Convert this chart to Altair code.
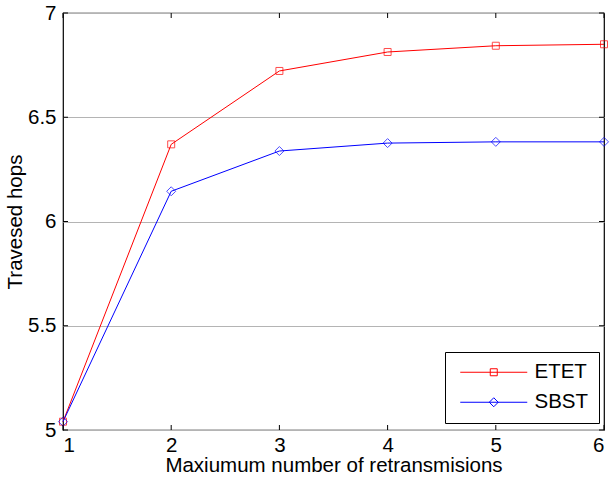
import altair as alt
import pandas as pd

x_vals = [1, 2, 3, 4, 5, 6]
etet = [5.04, 6.37, 6.722, 6.813, 6.843, 6.85]
sbst = [5.04, 6.145, 6.338, 6.376, 6.382, 6.382]
series_names = ["ETET", "SBST"]
x_ticks = [1, 2, 3, 4, 5, 6]
y_ticks = [5, 5.5, 6, 6.5, 7]

df = pd.DataFrame({
    "x": x_vals * 2,
    "y": etet + sbst,
    "series": ["ETET"] * len(x_vals) + ["SBST"] * len(x_vals),
})
xt = pd.DataFrame({"t": x_ticks})
yt = pd.DataFrame({"t": y_ticks})

FONT = "Liberation Sans"
FS = 20.5
W, H = 541, 417

xs = alt.Scale(domain=[1, 6], nice=False, zero=False)
ys = alt.Scale(domain=[5, 7], nice=False, zero=False)

# legend glyphs: line with marker in the middle (units of 8 px)
sq_path = "M-0.625,0H7.75M3.125,-0.4375H4V0.4375H3.125Z"
dm_path = "M-0.625,0H7.75M3,0L3.5625,-0.5625L4.125,0L3.5625,0.5625Z"

leg = alt.Legend(
    title=None, orient="none", legendX=382, legendY=339,
    strokeColor="black", fillColor="white", padding=10,
    labelFont=FONT, labelFontSize=FS, labelColor="black",
    labelOffset=59, symbolSize=256, rowPadding=9,
    symbolStrokeWidth=1, symbolFillColor="transparent", symbolOpacity=1,
)
color = alt.Color(
    "series:N",
    scale=alt.Scale(domain=series_names, range=["#ff0000", "#0000ff"]),
    legend=leg,
)
shape = alt.Shape(
    "series:N",
    scale=alt.Scale(domain=series_names, range=[sq_path, dm_path]),
    legend=leg,
)

base = alt.Chart(df)

lines = base.mark_line(strokeWidth=1).encode(
    x=alt.X("x:Q", scale=xs, axis=alt.Axis(
        values=x_ticks, title="Maxiumum number of retransmisions", grid=False,
        domain=False, ticks=False, labelFont=FONT, labelFontSize=FS, labelColor="black",
        labelPadding=5, titleFont=FONT, titleFontSize=FS, titleFontWeight="normal",
        titleColor="black", titlePadding=0, format="d")),
    y=alt.Y("y:Q", scale=ys, axis=alt.Axis(
        values=y_ticks, title="Travesed hops", grid=True, gridColor="#b4b4b4",
        gridWidth=1, domain=False, ticks=False, labelFont=FONT, labelFontSize=FS,
        labelColor="black", labelPadding=7, titleFont=FONT, titleFontSize=FS,
        titleFontWeight="normal", titleColor="black", titlePadding=2, format="~g")),
    color=color,
)

legend_layer = base.mark_point(opacity=0, filled=False, strokeWidth=1).encode(
    x=alt.X("x:Q", scale=xs), y=alt.Y("y:Q", scale=ys), color=color, shape=shape)

pts_etet = base.transform_filter(alt.datum.series == "ETET").mark_point(
    shape="square", size=49, filled=False, strokeWidth=1
).encode(x=alt.X("x:Q", scale=xs), y=alt.Y("y:Q", scale=ys), color=color)

pts_sbst = base.transform_filter(alt.datum.series == "SBST").mark_point(
    shape="diamond", size=81, filled=False, strokeWidth=1
).encode(x=alt.X("x:Q", scale=xs), y=alt.Y("y:Q", scale=ys), color=color)

tick_style = dict(color="black", strokeWidth=1)
xb = alt.Chart(xt).mark_rule(**tick_style).encode(
    x=alt.X("t:Q", scale=xs), y=alt.value(H), y2=alt.value(H - 5))
xtop = alt.Chart(xt).mark_rule(**tick_style).encode(
    x=alt.X("t:Q", scale=xs), y=alt.value(0), y2=alt.value(5))
yl = alt.Chart(yt).mark_rule(**tick_style).encode(
    y=alt.Y("t:Q", scale=ys), x=alt.value(0), x2=alt.value(5))
yr = alt.Chart(yt).mark_rule(**tick_style).encode(
    y=alt.Y("t:Q", scale=ys), x=alt.value(W), x2=alt.value(W - 5))

chart = alt.layer(lines, legend_layer, pts_etet, pts_sbst, xb, xtop, yl, yr).properties(
    width=W, height=H,
    autosize=alt.AutoSizeParams(type="none"),
    padding={"left": 63, "top": 13, "right": 6, "bottom": 49},
    background="white",
).configure_view(stroke="black", strokeWidth=1.2)

chart.save("out.html", embed_options={"renderer": "svg", "actions": False})
